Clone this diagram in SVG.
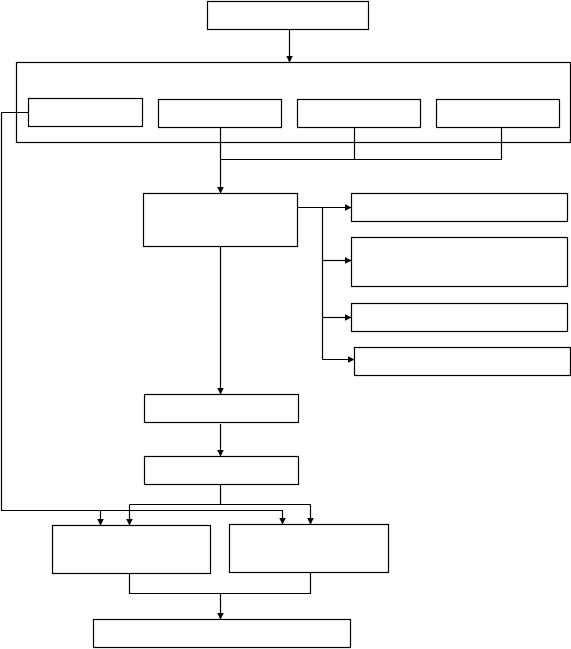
<svg xmlns="http://www.w3.org/2000/svg" width="571" height="649" viewBox="0 0 571 649">
<style>
.n{fill:#fff;stroke:#000;stroke-width:1.2}
.c{fill:none;stroke:#000;stroke-width:1.2}
.a{marker-end:url(#ar)}
</style>
<defs>
<marker id="ar" markerUnits="userSpaceOnUse" markerWidth="8" markerHeight="8" refX="7" refY="3.5" orient="auto">
<path d="M0,0 L7,3.5 L0,7 z" fill="#000"/>
</marker>
</defs>
<rect width="571" height="649" fill="#fff"/>
<g id="top"><rect class="n" x="207.5" y="1.5" width="161" height="28"/></g>
<g id="container"><rect class="n" x="16.5" y="62.5" width="554" height="80"/></g>
<g id="sub1"><rect class="n" x="28.5" y="98.5" width="114" height="28"/></g>
<g id="sub2"><rect class="n" x="158.5" y="99.5" width="123" height="28"/></g>
<g id="sub3"><rect class="n" x="297.5" y="99.5" width="123" height="28"/></g>
<g id="sub4"><rect class="n" x="436.5" y="99.5" width="123" height="28"/></g>
<g id="A"><rect class="n" x="143.5" y="193.5" width="154" height="53"/></g>
<g id="R1"><rect class="n" x="351.5" y="193.5" width="216" height="28"/></g>
<g id="R2"><rect class="n" x="351.5" y="237.5" width="216" height="49"/></g>
<g id="R3"><rect class="n" x="351.5" y="303.5" width="216" height="28"/></g>
<g id="R4"><rect class="n" x="354.5" y="347.5" width="216" height="28"/></g>
<g id="B"><rect class="n" x="144.5" y="394.5" width="154" height="28"/></g>
<g id="C"><rect class="n" x="144.5" y="456.5" width="154" height="28"/></g>
<g id="D"><rect class="n" x="52.5" y="525.5" width="158" height="48"/></g>
<g id="E"><rect class="n" x="229.5" y="524.5" width="159" height="48"/></g>
<g id="F"><rect class="n" x="93.5" y="619.5" width="257" height="28"/></g>
<g id="connectors">
<path class="c a" d="M289.5,29.5 V62.5"/>
<path class="c" d="M220.5,127.5 V159.5 H501.5 V127.5 M354.5,127.5 V159.5"/>
<path class="c a" d="M220.5,159.5 V193.5"/>
<path class="c a" d="M297.5,207.5 H351.5"/>
<path class="c" d="M322.5,207.5 V359.5"/>
<path class="c a" d="M322.5,260.5 H351.5"/>
<path class="c a" d="M322.5,317.5 H351.5"/>
<path class="c a" d="M322.5,359.5 H354.5"/>
<path class="c a" d="M220.5,246.5 V394.5"/>
<path class="c a" d="M220.5,424 V456.5"/>
<path class="c" d="M220.5,484.5 V504.5 M129.5,504.5 H310.5"/>
<path class="c a" d="M129.5,504.5 V525.5"/>
<path class="c a" d="M310.5,504.5 V524.5"/>
<path class="c a" d="M28.5,112.5 H1.5 V510.5 H282.5 V524.5"/>
<path class="c a" d="M100.5,510.5 V525.5"/>
<path class="c" d="M129.5,573.5 V593.5 H310.5 V572.5"/>
<path class="c a" d="M220.5,593.5 V619.5"/>
</g>
</svg>
